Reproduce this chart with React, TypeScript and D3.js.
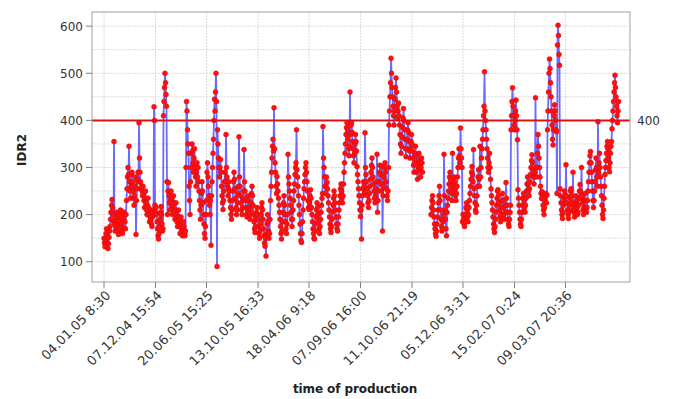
import React from "react";
import * as d3 from "d3";

// IDR2 values, two samples per horizontal pixel, in order of production (null = no samples)
const segA = [150,140,132,145,160,170,155,140,128,138,152,165,175,190,205,220,232,215,200,185,355,180,165,175,190,205,195,180,165,158,170,185,200,210,195,180,165,160,172,190,205,200,185,170,200,230,255,280,300,285,345,270,250,235,260,285,290,270,250,235,220,240,260,280,158,230,255,275,290,270,395,320,290,270,255,260,250,240,260,245,230,215,235,250,225,210,200,220,235,215,200,185,195,210,190,180,175,195,210,200,429,400,220,205];
const segB = [215,200,185,170,155,148,160,175,190,205,217,200,180,165,170,410,440,470,500,480,455,430,270,200,250,268,240,225,210,230,250,235,215,200,220,240,225,205,190,210,225,200,185,175,195,210,190,175,160,180,195,180,165,155,170,185,175,160,155,165,300,440,420,380,350,330,260,230,200,270,300,330,350,335,310,290,320,340,300,280,260,290,310,280,300,270,250,230,210,190,220,245,270,250,225,200,180,160,150,175,200,230];
const segC = [290,310,280,260,240,220,200,230,135,240,270,300,330,360,400,445,420,460,500,440,90,380,350,320,300,280,300,317,290,260,240,225,211,230,250,270,290,270,370,300,280,260,240,255,270,250,230,215,200,190,210,230,250,270,290,275,255,235,215,200,210,225,245,260,365,280,260,240,225,210,200,215,235,250,338,270,250,230,215,200,195,210,240,230,215,200,190,210,225,245,260,240,220,200,185,170,162,175,190,205,215,200];
const segD = [190,175,160,150,165,180,200,215,225,210,190,170,155,140,133,150,112,160,180,200,185,165,150,160,190,230,260,290,320,345,360,335,427,340,310,290,260,245,281,265,250,235,220,205,190,175,160,148,165,185,205,225,240,220,200,185,170,160,180,200,328,280,265,250,235,220,205,190,175,190,210,230,250,265,285,300,310,380,295,280,260,240,220,200,180,160,145,141,160,185,210,235,255,270,285,300,310,290,270,250,230,215];
const segE = [211,225,240,253,235,215,200,185,170,160,150,148,165,180,195,210,225,215,200,185,170,160,175,190,205,220,235,245,387,320,300,280,260,245,260,280,268,255,240,225,210,195,180,170,162,175,190,205,220,235,250,240,225,210,195,180,170,165,180,195,210,225,240,255,265,250,235,225,240,265,290,310,330,350,370,385,395,380,360,340,325,345,460,370,390,395,375,355,340,325,310,330,350,370,355,335,302,285,270,255,240,225,210,196];
const segF = [210,148,220,240,255,270,260,245,374,300,285,270,255,240,225,215,230,245,260,275,290,305,320,300,280,265,250,235,225,240,255,270,328,205,230,250,270,290,305,285,265,250,302,165,240,260,280,300,310,290,270,255,240,230,250,300,390,420,450,480,532,500,470,450,430,410,390,420,445,470,490,460,430,405,420,437,410,390,370,350,330,345,365,385,405,425,400,380,360,340,323,340,360,380,395,375,355,335,320,340,355,370];
const segG = [350,335,320,305,290,310,330,345,325,305,290,275,295,315,330,310,295,280,300,320,310,290,null,null,null,null,null,null,null,null,null,null,null,null,null,null,null,null,200,215,230,240,225,210,195,180,170,160,154,165,180,195,210,225,240,260,230,210,190,175,165,170,185,200,328,240,210,190,170,155,205,220,235,250,265,280,290,275,260,245,230,330,250,265,280,270,255,240,230,245,260,280,300,320,340,325,310,384,340,320,300,185];
const segH = [200,190,180,175,185,200,215,225,210,195,185,200,215,230,245,260,275,290,302,285,270,338,255,240,225,210,205,220,240,260,280,295,275,260,345,280,300,320,340,360,380,410,430,503,420,400,380,360,340,320,300,290,310,330,300,275,255,240,225,210,195,180,170,162,175,190,205,220,235,250,253,240,225,210,195,185,200,215,230,245,230,215,200,190,205,220,268,235,220,205,190,180,175,190,205,220,380,410,440,469,430,410,390,380];
const segI = [400,420,443,410,380,359,253,235,220,205,190,180,175,190,205,220,235,245,230,215,205,220,235,250,265,280,265,250,240,255,270,285,300,315,327,310,295,280,265,280,290,448,300,280,300,330,370,345,320,300,280,260,245,234,249,235,220,210,200,215,230,245,240,225,242,380,420,460,500,530,510,480,450,420,390,360,348,380,410,433,420,400,380,376,245,560,602,580,540,517,255,240,225,210,200,192,205,220,235,250,240,225];
const segJ = [306,240,225,210,200,192,205,220,235,250,255,240,225,210,290,220,205,195,210,225,240,230,215,200,205,220,235,250,264,250,235,300,240,225,210,200,215,230,245,230,215,205,215,230,250,270,290,310,325,334,310,290,270,250,230,215,230,250,270,295,320,300,280,260,397,290,310,330,300,280,260,240,220,200,192,210,235,260,285,300,315,330,345,355,340,320,300,291,310,330,345,355,382,400,420,440,460,480,496,470,450,430,410,395,420,440];

const values: (number | null)[] = [...segA, ...segB, ...segC, ...segD, ...segE, ...segF, ...segG, ...segH, ...segI, ...segJ];

const tickIndex = [0, 103, 205, 308, 410, 513, 616, 718, 821, 923];
const tickLabels = [
  "04.01.05 8:30",
  "07.12.04 15:54",
  "20.06.05 15:25",
  "13.10.05 16:33",
  "18.04.06 9:18",
  "07.09.06 16:00",
  "11.10.06 21:19",
  "05.12.06 3:31",
  "15.02.07 0:24",
  "09.03.07 20:36",
];
const yTicks = [100, 200, 300, 400, 500, 600];
const yGrid = [100, 150, 200, 250, 300, 350, 400, 450, 500, 550, 600];
const limitValue = 400;

const W = 674;
const H = 399;
const left = 92;
const right = 630;
const top = 12;
const bottom = 282;
const FONT = "DejaVu Sans, Verdana, sans-serif";

export default function App() {
  const n = values.length;
  const x = d3.scaleLinear().domain([0, n - 1]).range([104, 104 + (n - 1) * 0.5]);
  const y = d3.scaleLinear().domain([57, 630]).range([bottom, top]);

  const pts = values.map((v, i) => ({ i, v }));
  const line = d3
    .line<{ i: number; v: number | null }>()
    .defined((d) => d.v !== null)
    .x((d) => x(d.i))
    .y((d) => y(d.v as number));

  return (
    <svg
      width={W}
      height={H}
      style={{ position: "absolute", left: 0, top: 0, display: "block", background: "#fff" }}
      fontFamily={FONT}
    >
      <rect x={0} y={0} width={W} height={H} fill="#fff" />
      {yGrid.map((g) => (
        <line key={"gy" + g} x1={left} x2={right} y1={y(g)} y2={y(g)} stroke="#dcdcdc" strokeWidth={1} strokeDasharray="2,1" />
      ))}
      {tickIndex.map((t) => (
        <line key={"gx" + t} x1={x(t)} x2={x(t)} y1={top} y2={bottom} stroke="#dcdcdc" strokeWidth={1} strokeDasharray="2,1" />
      ))}
      <path d={line(pts) || ""} fill="none" stroke="#5050ff" strokeWidth={1.8} strokeOpacity={0.85} />
      {pts
        .filter((d) => d.v !== null)
        .map((d) => (
          <circle key={"p" + d.i} cx={x(d.i)} cy={y(d.v as number)} r={2.5} fill="#ff1010" stroke="#d80000" strokeWidth={0.4} />
        ))}
      <line x1={left} x2={right} y1={y(limitValue)} y2={y(limitValue)} stroke="#e01010" strokeWidth={2} />
      <text x={637} y={y(limitValue) + 4.5} fontSize={12} fill="#333">
        {limitValue}
      </text>
      <rect x={left} y={top} width={right - left} height={bottom - top} fill="none" stroke="#a0a0a0" strokeWidth={1} />
      {yTicks.map((t) => (
        <g key={"yt" + t}>
          <line x1={left - 6} x2={left} y1={y(t)} y2={y(t)} stroke="#808080" />
          <text x={left - 9} y={y(t) + 4.5} fontSize={12} textAnchor="end" fill="#333">
            {t}
          </text>
        </g>
      ))}
      {tickIndex.map((t, k) => (
        <g key={"xt" + t}>
          <line x1={x(t)} x2={x(t)} y1={bottom} y2={bottom + 6} stroke="#808080" />
          <text
            transform={`translate(${x(t) + 4},${bottom + 11}) rotate(-45)`}
            fontSize={13}
            textAnchor="end"
            dy="0.35em"
            fill="#333"
          >
            {tickLabels[k]}
          </text>
        </g>
      ))}
      <text
        transform={`translate(26,${(top + bottom) / 2 + 3}) rotate(-90)`}
        textAnchor="middle"
        fontSize={12}
        fontWeight="bold"
        fill="#222"
      >
        IDR2
      </text>
      <text x={355} y={393} textAnchor="middle" fontSize={12} fontWeight="bold" fill="#222" letterSpacing={-0.1}>
        time of production
      </text>
    </svg>
  );
}
